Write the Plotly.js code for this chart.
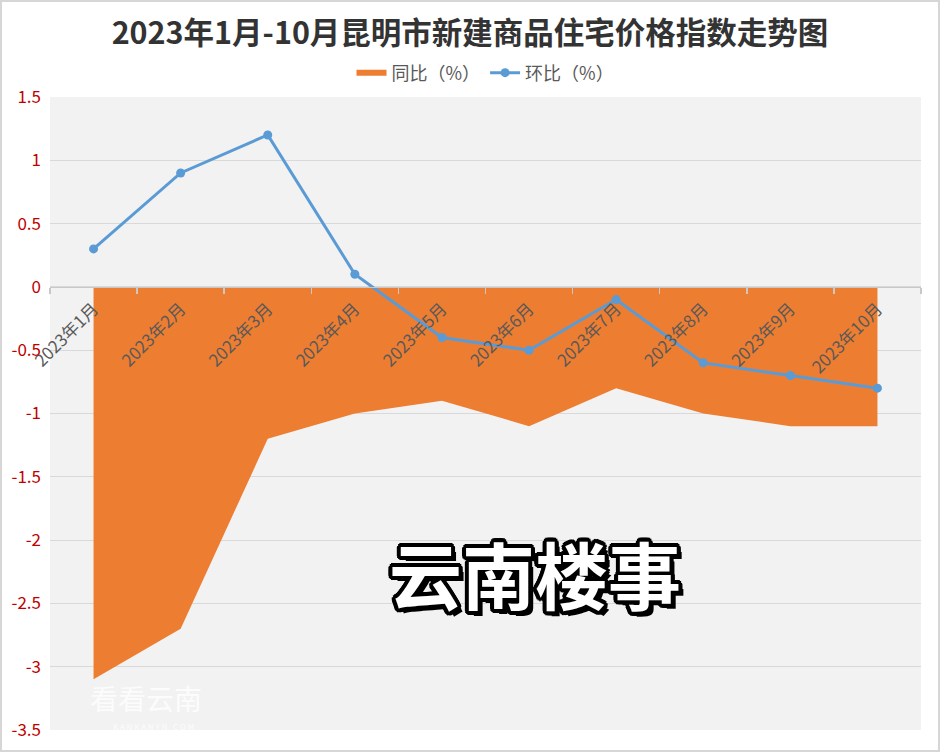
<!DOCTYPE html>
<html>
<head>
<meta charset="utf-8">
<script src="https://cdn.plot.ly/plotly-3.0.1.min.js"></script>
<style>
html,body{margin:0;padding:0;background:#fff;}
#wrap{position:relative;width:940px;height:752px;}
#chart{width:940px;height:752px;}
#frame{position:absolute;left:0;top:0;width:936px;height:748px;border:2px solid #d6d6d6;pointer-events:none;}
</style>
</head>
<body>
<div id="wrap"><div id="chart"></div><div id="frame"></div></div>
<script>
const categories = ['2023年1月','2023年2月','2023年3月','2023年4月','2023年5月','2023年6月','2023年7月','2023年8月','2023年9月','2023年10月'];
const yoyValues = [-3.1, -2.7, -1.2, -1.0, -0.9, -1.1, -0.8, -1.0, -1.1, -1.1];
const momValues = [0.3, 0.9, 1.2, 0.1, -0.4, -0.5, -0.1, -0.6, -0.7, -0.8];
const yTickVals = [1.5, 1, 0.5, 0, -0.5, -1, -1.5, -2, -2.5, -3, -3.5];
const yTickText = ['1.5', '1', '0.5', '0', '-0.5', '-1', '-1.5', '-2', '-2.5', '-3', '-3.5'];

const FONT = '"Noto Sans CJK SC", "Noto Sans", sans-serif';
const yMin = -3.5, yMax = 1.5;

const traces = [
  {
    type: 'scatter', x: categories, y: yoyValues, name: '同比（%）',
    mode: 'none', fill: 'tozeroy', fillcolor: '#ed7d31',
    line: {width: 0}, hoverinfo: 'y'
  },
  {
    type: 'scatter', x: categories, y: momValues, name: '环比（%）',
    mode: 'lines+markers', line: {color: '#5b9bd5', width: 3},
    marker: {color: '#5b9bd5', size: 9}
  }
];

const outline = [];
for (let a = 0; a < 16; a++) {
  const t = a * Math.PI / 8;
  outline.push((4 * Math.cos(t)).toFixed(1) + 'px ' + (4 * Math.sin(t)).toFixed(1) + 'px 0 #000');
}
outline.push('5px 5px 0 #000');

const layout = {
  width: 940, height: 752,
  margin: {l: 50, r: 19, t: 97, b: 22},
  paper_bgcolor: '#ffffff',
  plot_bgcolor: '#f2f2f2',
  font: {family: FONT, color: '#595959'},
  title: {
    text: '2023年1月-10月昆明市新建商品住宅价格指数走势图',
    font: {family: FONT, size: 30.5, color: '#333333', weight: 'bold'},
    x: 0.5, xanchor: 'center', xref: 'container',
    y: 1 - 33/752, yanchor: 'middle', yref: 'container'
  },
  showlegend: true,
  legend: {
    orientation: 'h', x: 0.5, xanchor: 'center', xref: 'paper',
    y: 1.038, yanchor: 'middle', yref: 'paper',
    font: {family: FONT, size: 18, color: '#595959'},
    bgcolor: 'rgba(0,0,0,0)', traceorder: 'normal', itemwidth: 30
  },
  xaxis: {
    type: 'category', range: [-0.5, 9.5],
    anchor: 'free', position: (0 - yMin) / (yMax - yMin),
    showline: true, linecolor: '#c8c8c8', linewidth: 1.5,
    ticks: 'outside', tickson: 'boundaries', ticklen: 6, tickcolor: '#c8c8c8', tickwidth: 1.5,
    tickangle: -45, tickfont: {family: FONT, size: 17, color: '#595959'},
    ticklabelstandoff: 4,
    showgrid: false, zeroline: false, fixedrange: true
  },
  yaxis: {
    range: [yMin, yMax], tickvals: yTickVals, ticktext: yTickText,
    tickfont: {family: FONT, size: 17, color: '#c00000'},
    ticklabelstandoff: 8,
    showgrid: true, gridcolor: '#d9d9d9', gridwidth: 1,
    zeroline: false, showline: false, ticks: '', fixedrange: true
  },
  annotations: [
    {
      text: '云南楼事', xref: 'paper', yref: 'paper',
      x: (535 - 50) / 871, y: (730 - 572) / 633, xanchor: 'center', yanchor: 'middle',
      showarrow: false,
      font: {family: FONT, size: 73, color: '#ffffff', weight: 'bold', shadow: outline.join(', ')}
    },
    {
      text: '看看云南', xref: 'paper', yref: 'paper',
      x: (146 - 50) / 871, y: (730 - 698) / 633, xanchor: 'center', yanchor: 'middle',
      showarrow: false,
      font: {family: FONT, size: 28, color: 'rgba(255,255,255,0.8)'}
    },
    {
      text: 'K A N K A N Y N . C O M', xref: 'paper', yref: 'paper',
      x: (153 - 50) / 871, y: (730 - 726) / 633, xanchor: 'center', yanchor: 'middle',
      showarrow: false,
      font: {family: FONT, size: 8, color: 'rgba(255,255,255,0.8)'}
    }
  ]
};

Plotly.newPlot('chart', traces, layout, {displayModeBar: false, staticPlot: true});
</script>
</body>
</html>
